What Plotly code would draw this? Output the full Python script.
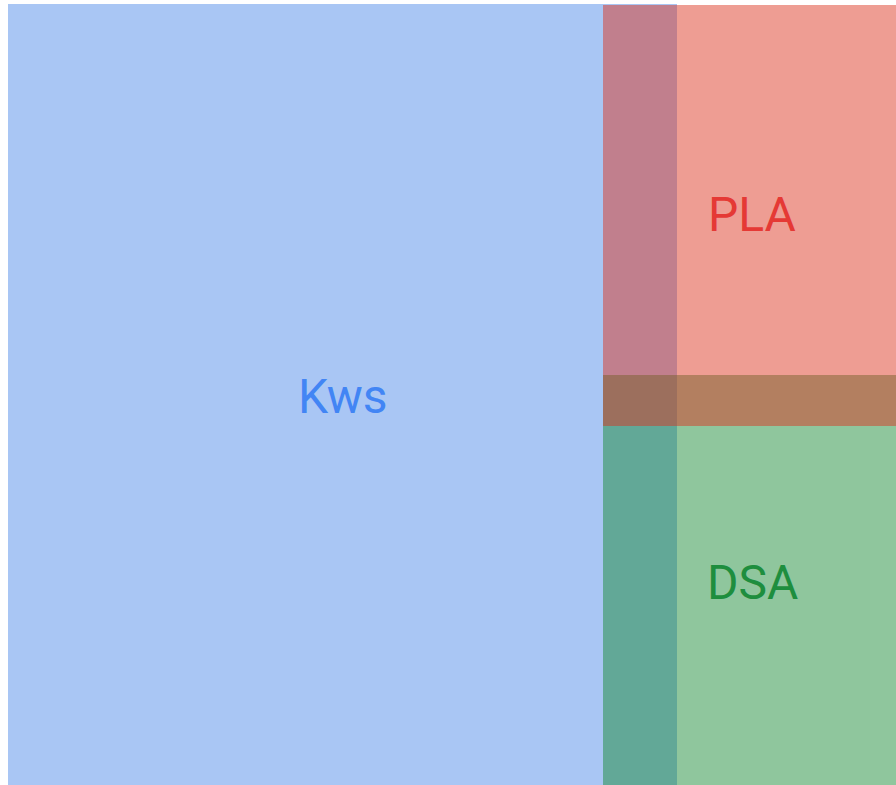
import plotly.graph_objects as go

# Set labels and their rectangle extents (chart units, y grows downward)
sets = ["Kws", "PLA", "DSA"]
x_start = [8, 603, 603]
x_end = [677, 901, 901]
y_start = [4, 5, 375]
y_end = [790, 426, 791]
fill_colors = ["rgba(72,133,232,0.47)", "rgba(220,50,30,0.48)", "rgba(21,135,50,0.48)"]
text_colors = ["#4285F4", "#E53935", "#1E8E3E"]
draw_order = [0, 2, 1]

fig = go.Figure()
for i in draw_order:
    xs = [x_start[i], x_end[i], x_end[i], x_start[i], x_start[i]]
    ys = [y_start[i], y_start[i], y_end[i], y_end[i], y_start[i]]
    fig.add_trace(go.Scatter(x=xs, y=ys, mode="lines", fill="toself",
                             fillcolor=fill_colors[i], line=dict(width=0),
                             hoverinfo="skip", showlegend=False))
for i in range(len(sets)):
    fig.add_annotation(
        x=(x_start[i] + x_end[i]) / 2, y=(y_start[i] + y_end[i]) / 2,
        text=sets[i], showarrow=False, yshift=1,
        font=dict(family="Roboto", size=48, color=text_colors[i]))

fig.update_layout(width=896, height=785, margin=dict(l=0, r=0, t=0, b=0),
                  paper_bgcolor="white", plot_bgcolor="white",
                  xaxis=dict(range=[0, 896], visible=False, fixedrange=True),
                  yaxis=dict(range=[785, 0], visible=False, fixedrange=True))
fig.write_html("out.html", config={"displayModeBar": False},
               post_script="document.body.style.margin='0';")
